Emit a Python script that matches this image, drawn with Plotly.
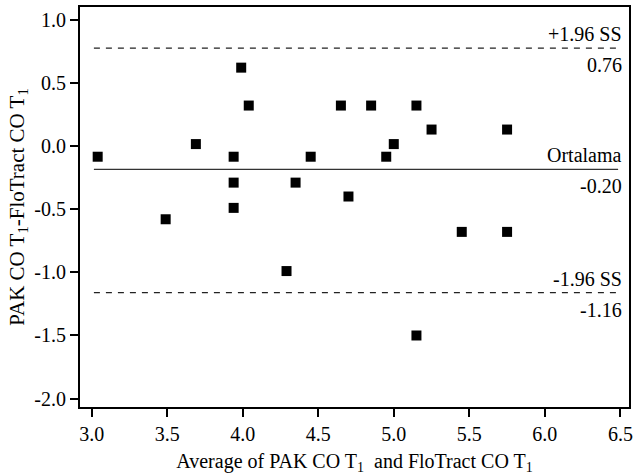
import plotly.graph_objects as go

avg_x = [3.04, 3.49, 3.69, 3.94, 3.94, 3.94, 3.99, 4.04, 4.29, 4.35, 4.45,
         4.65, 4.70, 4.85, 4.95, 5.00, 5.15, 5.15, 5.25, 5.45, 5.75, 5.75]
diff_y = [-0.085, -0.58, 0.015, -0.085, -0.29, -0.49, 0.62, 0.32, -0.99, -0.29, -0.085,
          0.32, -0.40, 0.32, -0.085, 0.015, 0.32, -1.50, 0.13, -0.68, 0.13, -0.68]

upper_loa = 0.775
mean_diff = -0.185
lower_loa = -1.16
line_x = [3.015, 6.485]

label_top = ["+1.96 SS", "Ortalama", "-1.96 SS"]
label_bottom = ["0.76", "-0.20", "-1.16"]

x_ticks = [3.0, 3.5, 4.0, 4.5, 5.0, 5.5, 6.0, 6.5]
y_ticks = [1.0, 0.5, 0.0, -0.5, -1.0, -1.5, -2.0]

FONT = "Liberation Serif"

fig = go.Figure()
fig.add_trace(go.Scatter(
    x=avg_x, y=diff_y, mode="markers",
    marker=dict(symbol="square", size=10, color="black"),
    showlegend=False, hoverinfo="skip"))

lines = [upper_loa, mean_diff, lower_loa]
dashes = ["6px,6px", "solid", "6px,6px"]
colors = ["#222", "#333", "#222"]
for yv, d, c in zip(lines, dashes, colors):
    fig.add_trace(go.Scatter(x=line_x, y=[yv, yv], mode="lines",
                             line=dict(color=c, width=1.3, dash=d),
                             showlegend=False, hoverinfo="skip"))

annotations = []
for yv, t, b in zip(lines, label_top, label_bottom):
    annotations.append(dict(x=line_x[1], y=yv, xref="x", yref="y", text=t,
                            showarrow=False, xanchor="right", yanchor="bottom",
                            yshift=1, xshift=6, font=dict(family=FONT, size=20, color="black")))
    annotations.append(dict(x=line_x[1], y=yv, xref="x", yref="y", text=b,
                            showarrow=False, xanchor="right", yanchor="top",
                            yshift=-4, xshift=6, font=dict(family=FONT, size=20, color="black")))

fig.update_layout(
    width=637, height=476,
    margin=dict(l=80, r=4, t=7, b=69),
    paper_bgcolor="white", plot_bgcolor="white",
    font=dict(family=FONT, size=20, color="black"),
    annotations=annotations,
    xaxis=dict(range=[2.923, 6.557], tickvals=x_ticks,
               ticktext=[f"{v:.1f}" for v in x_ticks],
               showgrid=False, zeroline=False,
               showline=True, linecolor="black", linewidth=2, mirror=True,
               ticks="outside", ticklen=8, tickwidth=2, tickcolor="black",
               tickfont=dict(family=FONT, size=20),
               title=dict(text="Average of PAK CO T<sub>1</sub>  and FloTract CO T<sub>1</sub>",
                          font=dict(family=FONT, size=20), standoff=10)),
    yaxis=dict(range=[-2.066, 1.10], tickvals=y_ticks,
               ticktext=[f"{v:.1f}" for v in y_ticks],
               showgrid=False, zeroline=False,
               showline=True, linecolor="black", linewidth=2, mirror=True,
               ticks="outside", ticklen=8, tickwidth=2, tickcolor="black",
               tickfont=dict(family=FONT, size=20),
               title=dict(text="PAK CO T<sub>1</sub>-FloTract CO T<sub>1</sub>",
                          font=dict(family=FONT, size=21), standoff=4)),
)

fig.write_html("out.html")
